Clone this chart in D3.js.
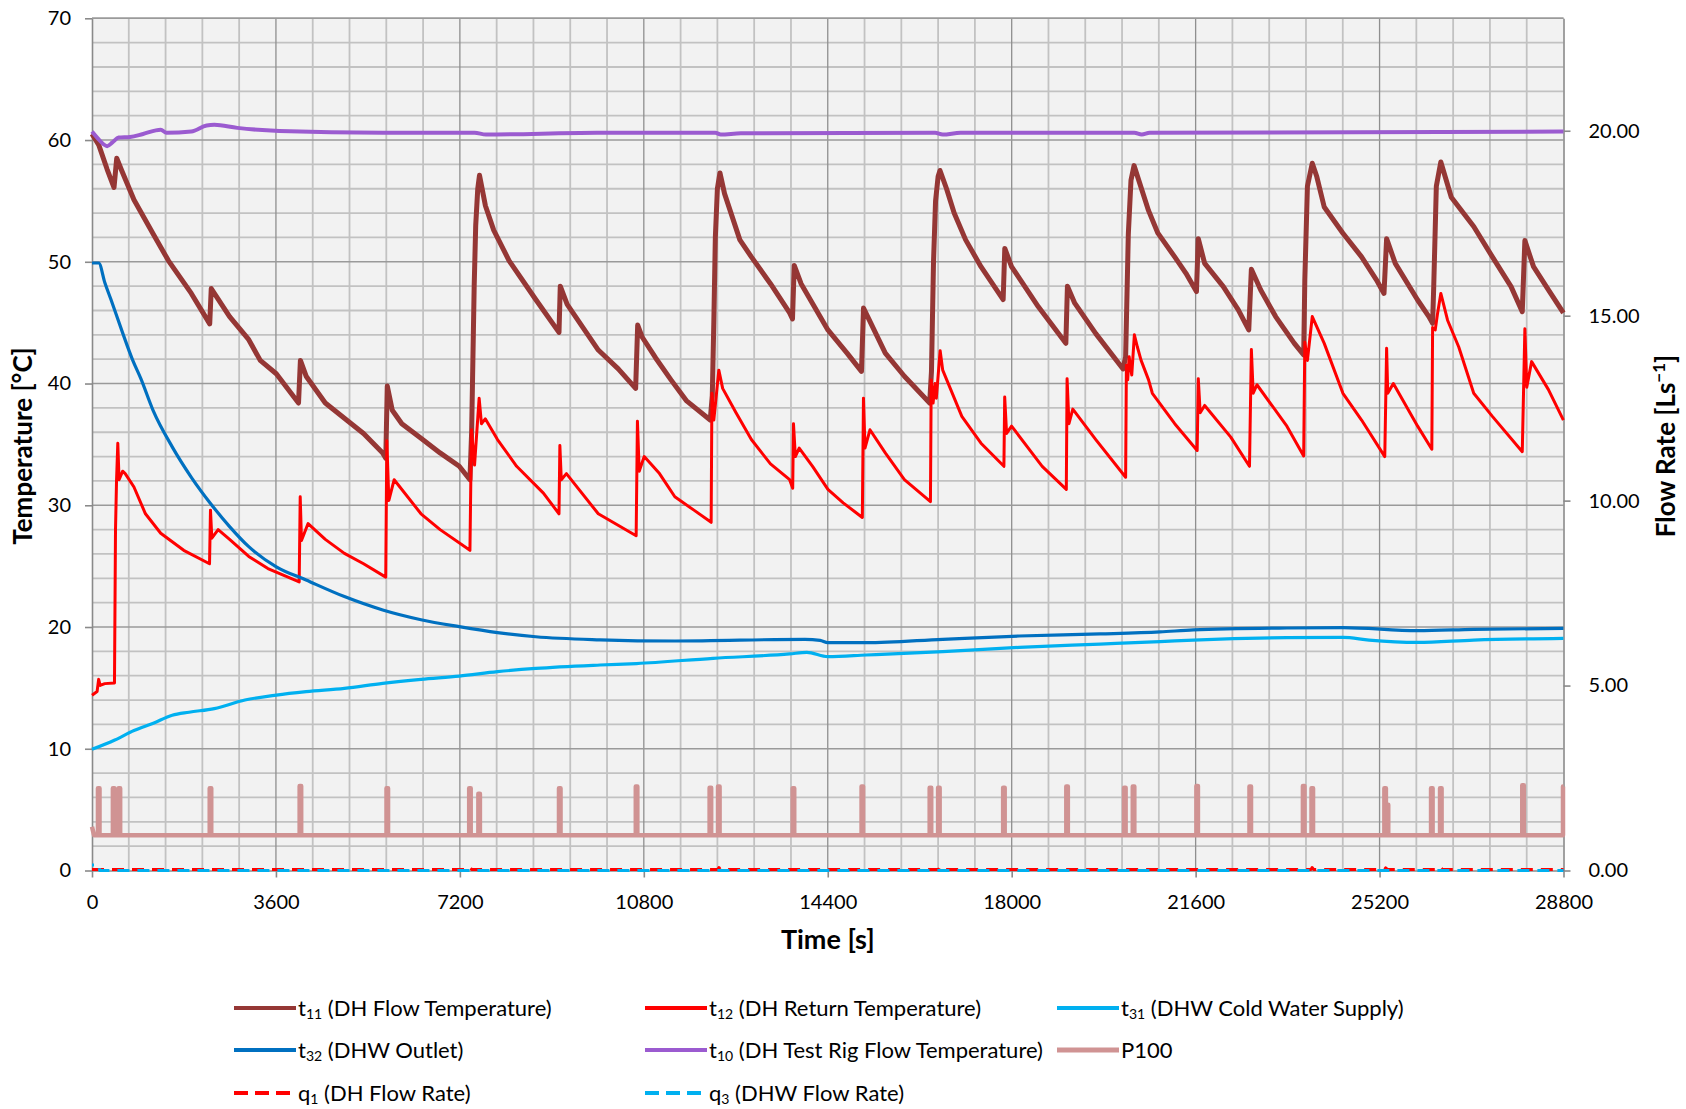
<!DOCTYPE html>
<html lang="en">
  <head>
    <meta charset="utf-8" />
    <title>DH substation test - temperatures and flow rates</title>
    <script src="https://d3js.org/d3.v7.min.js"></script>
    <style>
      body { margin: 0; background: #fff; }
      text { font-family: Lato, "Open Sans", sans-serif; fill: #000; }
    </style>
  </head>
  <body>
    <svg id="chart" width="1686" height="1109"></svg>

    <script>
      // tick values
      const timeTicks = [0, 3600, 7200, 10800, 14400, 18000, 21600, 25200, 28800];
      const tempTicks = [0, 10, 20, 30, 40, 50, 60, 70];
      const flowTicks = [0, 5, 10, 15, 20];

      // series: [time s, value]
      const t11 = [[0,60.5],[132,59.6],[296,57.6],[431,56.1],[484,58.5],[581,57.5],[821,55.1],[1195,52.3],[1495,50.1],[1944,47.4],[2304,44.9],[2334,47.8],[2693,45.5],[3068,43.6],[3293,41.9],[3607,40.8],[4042,38.4],[4079,41.9],[4191,40.6],[4566,38.4],[4940,37.15],[5315,35.9],[5690,34.3],[5750,33.85],[5779,39.8],[5877,37.8],[6064,36.7],[6439,35.5],[6813,34.3],[7188,33.2],[7397,32.1],[7430,36],[7480,48],[7510,53],[7550,56],[7584,57.1],[7700,54.6],[7862,52.6],[8162,50.1],[8685,46.9],[9140,44.2],[9165,48.0],[9300,46.5],[9909,42.75],[10300,41.2],[10640,39.6],[10680,44.8],[10770,43.8],[11032,42.1],[11332,40.3],[11631,38.6],[12100,37.0],[12140,39],[12170,45],[12200,52],[12240,56],[12290,57.3],[12380,55.6],[12680,51.8],[12905,50.4],[13279,48.2],[13654,45.8],[13710,45.3],[13744,49.7],[13878,48.2],[14403,44.4],[14778,42.5],[15060,41.0],[15100,46.2],[15226,45.1],[15526,42.5],[15900,40.6],[16395,38.4],[16430,41],[16470,50],[16510,55],[16560,57],[16597,57.5],[16725,56.0],[16874,54.0],[17099,51.8],[17399,49.6],[17833,46.9],[17865,51.1],[17997,49.6],[18522,46.3],[19060,43.3],[19091,48.0],[19234,46.6],[19646,44.1],[20180,41.2],[20230,42.2],[20283,52.3],[20335,56.7],[20395,57.9],[20679,54.2],[20862,52.35],[21191,50.4],[21411,49.05],[21616,47.55],[21652,51.9],[21777,49.87],[22142,47.96],[22435,46.05],[22640,44.4],[22691,49.38],[22874,47.68],[23166,45.5],[23532,43.3],[23715,42.35],[23737,48.5],[23788,56.2],[23883,58.1],[23971,57.0],[24117,54.5],[24483,52.35],[24848,50.4],[25141,48.5],[25287,47.4],[25338,51.9],[25507,49.87],[25945,46.86],[26165,45.5],[26238,44.95],[26260,47.96],[26311,56.2],[26399,58.2],[26604,55.3],[27043,52.9],[27408,50.4],[27774,47.96],[27993,45.9],[28044,51.74],[28213,49.6],[28505,47.7],[28798,45.8]];

      const t12 = [[0,14.4],[100,14.7],[130,15.7],[160,15.2],[250,15.35],[440,15.4],[460,28],[480,32],[505,35.1],[530,32.1],[600,32.8],[650,32.6],[821,31.5],[1046,29.3],[1345,27.7],[1795,26.3],[2300,25.2],[2319,29.6],[2345,27.3],[2469,28.0],[2693,27.2],[3068,25.8],[3443,24.8],[4055,23.7],[4075,30.7],[4100,27.1],[4229,28.5],[4566,27.2],[4940,26.05],[5315,25.2],[5749,24.1],[5770,35.3],[5810,30.4],[5914,32.1],[6439,29.3],[6813,28.0],[7397,26.3],[7427,36.2],[7487,33.3],[7577,38.8],[7622,36.7],[7697,37.1],[7936,35.4],[8311,33.2],[8835,31.0],[9140,29.3],[9157,34.9],[9185,32.1],[9285,32.6],[9909,29.3],[10650,27.5],[10675,36.9],[10710,32.8],[10808,34.0],[11107,32.6],[11407,30.7],[11781,29.6],[12118,28.6],[12133,39.2],[12170,37.0],[12268,41.1],[12343,39.6],[12605,37.6],[12905,35.4],[13279,33.4],[13654,32.1],[13714,31.4],[13729,36.7],[13766,34.0],[13841,34.7],[14103,33.2],[14403,31.3],[14702,30.2],[15077,29.0],[15099,38.8],[15129,34.7],[15226,36.2],[15526,34.3],[15900,32.1],[16410,30.3],[16425,40.3],[16462,38.4],[16500,40.0],[16525,38.8],[16600,42.7],[16650,41.1],[17024,37.3],[17399,35.1],[17848,33.2],[17863,38.9],[17900,35.9],[17998,36.5],[18597,33.2],[19069,31.3],[19084,40.4],[19121,36.7],[19196,37.9],[19646,35.4],[20230,32.3],[20245,41.5],[20270,40.3],[20299,42.2],[20350,40.7],[20401,44.0],[20460,43.0],[20533,41.9],[20679,40.3],[20753,39.2],[21191,36.7],[21630,34.5],[21652,40.4],[21689,37.6],[21777,38.2],[22288,35.6],[22654,33.2],[22691,42.8],[22727,39.2],[22800,39.9],[23386,36.5],[23715,34.05],[23737,43.4],[23788,41.9],[23883,45.5],[24117,43.3],[24483,39.2],[24848,37.0],[25302,34.0],[25338,42.9],[25360,39.2],[25470,40.0],[25945,36.5],[26223,34.6],[26238,44.6],[26289,44.4],[26333,45.7],[26399,47.4],[26531,45.2],[26750,43.0],[27043,39.2],[27408,37.3],[27993,34.4],[28044,44.5],[28081,39.7],[28176,41.8],[28505,39.5],[28798,37.0]];

      const t31 = [[0,9.95],[446,10.72],[821,11.5],[1200,12.1],[1570,12.75],[1900,13.0],[2394,13.3],[2993,14.0],[3607,14.41],[4191,14.69],[4940,14.96],[5690,15.37],[6439,15.7],[7188,15.97],[7936,16.33],[8685,16.6],[9943,16.88],[10658,17.0],[12156,17.43],[13654,17.79],[13991,17.92],[14403,17.57],[15152,17.7],[16650,17.98],[18148,18.33],[19729,18.6],[20904,18.8],[21557,18.93],[23386,19.13],[24483,19.15],[24995,18.93],[25945,18.74],[27043,18.93],[28798,19.07]];

      const t32 = [[0,49.9],[132,49.9],[250,48.3],[371,46.9],[596,44.2],[798,41.9],[956,40.4],[1195,37.8],[1570,34.8],[1944,32.3],[2319,30.15],[2693,28.25],[3068,26.6],[3607,24.95],[4191,23.86],[4940,22.5],[5690,21.4],[6439,20.6],[7188,20.03],[7936,19.54],[8685,19.2],[9943,18.95],[11407,18.85],[13953,18.99],[14250,18.9],[14403,18.71],[15152,18.71],[16650,18.99],[18148,19.26],[19729,19.43],[20904,19.6],[21557,19.76],[23386,19.92],[24483,19.95],[25945,19.7],[27043,19.81],[28798,19.89]];

      const t10 = [[0,60.7],[100,60.2],[296,59.5],[400,59.8],[521,60.2],[746,60.25],[1000,60.5],[1345,60.85],[1457,60.6],[1944,60.7],[2244,61.2],[2394,61.25],[2843,61.0],[3667,60.75],[5690,60.6],[7487,60.6],[7711,60.45],[9884,60.6],[12200,60.6],[12305,60.45],[12700,60.55],[16500,60.6],[16650,60.45],[17000,60.6],[20400,60.6],[20545,60.45],[20700,60.6],[28798,60.7]];

      const p100 = [[0,3.6],[40,2.9],
        [117,2.9],[117,6.75],[147,6.75],[147,2.9],
        [409,2.9],[409,6.75],[439,6.75],[439,2.9],
        [521,2.9],[521,6.75],[551,6.75],[551,2.9],
        [2304,2.9],[2304,6.75],[2334,6.75],[2334,2.9],
        [4064,2.9],[4064,6.94],[4094,6.94],[4094,2.9],
        [5764,2.9],[5764,6.75],[5794,6.75],[5794,2.9],
        [7382,2.9],[7382,6.75],[7412,6.75],[7412,2.9],
        [7562,2.9],[7562,6.3],[7592,6.3],[7592,2.9],
        [9140,2.9],[9140,6.75],[9170,6.75],[9170,2.9],
        [10643,2.9],[10643,6.89],[10673,6.89],[10673,2.9],
        [12088,2.9],[12088,6.8],[12118,6.8],[12118,2.9],
        [12253,2.9],[12253,6.89],[12283,6.89],[12283,2.9],
        [13714,2.9],[13714,6.75],[13744,6.75],[13744,2.9],
        [15062,2.9],[15062,6.89],[15092,6.89],[15092,2.9],
        [16395,2.9],[16395,6.8],[16425,6.8],[16425,2.9],
        [16560,2.9],[16560,6.8],[16590,6.8],[16590,2.9],
        [17833,2.9],[17833,6.8],[17863,6.8],[17863,2.9],
        [19069,2.9],[19069,6.89],[19099,6.89],[19099,2.9],
        [20200,2.9],[20200,6.8],[20230,6.8],[20230,2.9],
        [20370,2.9],[20370,6.89],[20400,6.89],[20400,2.9],
        [21615,2.9],[21615,6.94],[21645,6.94],[21645,2.9],
        [22654,2.9],[22654,6.89],[22684,6.89],[22684,2.9],
        [23700,2.9],[23700,6.94],[23730,6.94],[23730,2.9],
        [23868,2.9],[23868,6.75],[23898,6.75],[23898,2.9],
        [25294,2.9],[25294,6.75],[25324,6.75],[25324,2.9],
        [25350,2.9],[25350,5.4],[25370,5.4],[25370,2.9],
        [26208,2.9],[26208,6.75],[26238,6.75],[26238,2.9],
        [26384,2.9],[26384,6.75],[26414,6.75],[26414,2.9],
        [27993,2.9],[27993,7.0],[28023,7.0],[28023,2.9],
        [28790,2.9],[28790,6.89],[28800,6.89]];

      const q1 = [[0,0.03],[7380,0.03],[7400,0.08],[7430,0.03],[12250,0.03],[12270,0.08],[12300,0.03],[16570,0.03],[16590,0.08],[16620,0.03],[23860,0.03],[23880,0.08],[23910,0.03],[25300,0.03],[25320,0.07],[25350,0.03],[26380,0.03],[26400,0.08],[26430,0.03],[28800,0.03]];
      const q3 = [[0,0.15],[130,0.15],[150,0.0],[28800,0.0]];

      const svg = d3.select("#chart");
      const plot = { left: 92, right: 1563.5, top: 18.3, bottom: 870.5 };

      const x = d3.scaleLinear().domain([0, 28800]).range([plot.left, plot.right]);
      const yT = d3.scaleLinear().domain([0, 70]).range([plot.bottom, plot.top]);
      const yF = d3.scaleLinear().domain([0, 23.04]).range([plot.bottom, plot.top]);

      svg.append("rect")
        .attr("x", plot.left).attr("y", plot.top)
        .attr("width", plot.right - plot.left)
        .attr("height", plot.bottom - plot.top)
        .attr("fill", "#f2f2f2");

      // minor grid every 720 s and 2 degC
      const grid = svg.append("g");
      grid.selectAll(".vmin").data(d3.range(720, 28800, 720).filter(d => d % 3600))
        .enter().append("line")
        .attr("x1", d => x(d)).attr("x2", d => x(d))
        .attr("y1", plot.top).attr("y2", plot.bottom)
        .attr("stroke", "#c2c2c2").attr("stroke-width", 1.8);
      grid.selectAll(".hmin").data(d3.range(2, 70, 2).filter(d => d % 10))
        .enter().append("line")
        .attr("x1", plot.left).attr("x2", plot.right)
        .attr("y1", d => yT(d)).attr("y2", d => yT(d))
        .attr("stroke", "#c2c2c2").attr("stroke-width", 1.8);
      // major grid
      grid.selectAll(".vmaj").data(timeTicks.slice(1, -1))
        .enter().append("line")
        .attr("x1", d => x(d)).attr("x2", d => x(d))
        .attr("y1", plot.top).attr("y2", plot.bottom)
        .attr("stroke", "#8f8f8f").attr("stroke-width", 1.3);
      grid.selectAll(".hmaj").data(tempTicks.slice(1))
        .enter().append("line")
        .attr("x1", plot.left).attr("x2", plot.right)
        .attr("y1", d => yT(d)).attr("y2", d => yT(d))
        .attr("stroke", "#9a9a9a").attr("stroke-width", 1.6);

      // axes
      function styleAxis(g) {
        g.select(".domain").attr("stroke", "#8a8a8a").attr("stroke-width", 1.6);
        g.selectAll(".tick line").attr("stroke", "#8a8a8a").attr("stroke-width", 1.6);
        g.selectAll(".tick text").attr("font-size", 20).attr("fill", "#000");
      }
      svg.append("g")
        .attr("transform", `translate(0,${plot.bottom})`)
        .call(d3.axisBottom(x).tickValues(timeTicks).tickSize(7).tickPadding(17).tickSizeOuter(0).tickFormat(d3.format("d")))
        .call(styleAxis);
      svg.append("g")
        .attr("transform", `translate(${plot.left},0)`)
        .call(d3.axisLeft(yT).tickValues(tempTicks).tickSize(7).tickPadding(14).tickSizeOuter(0))
        .call(styleAxis);
      svg.append("g")
        .attr("transform", `translate(${plot.right},0)`)
        .call(d3.axisRight(yF).tickValues(flowTicks).tickSize(7).tickPadding(18).tickSizeOuter(0).tickFormat(d3.format(".2f")))
        .call(styleAxis);
      svg.append("line")
        .attr("x1", plot.left).attr("x2", plot.right)
        .attr("y1", plot.top).attr("y2", plot.top)
        .attr("stroke", "#9a9a9a").attr("stroke-width", 1.6);

      // series
      const lineLin = d3.line().x(d => x(d[0])).y(d => yT(d[1]));
      const lineSmooth = d3.line().x(d => x(d[0])).y(d => yT(d[1])).curve(d3.curveMonotoneX);
      const lineF = d3.line().x(d => x(d[0])).y(d => yF(d[1]));

      const series = [
        { data: t11, gen: lineLin, color: "#953735", width: 5, dash: null },
        { data: t12, gen: lineLin, color: "#ff0000", width: 3, dash: null },
        { data: t31, gen: lineSmooth, color: "#00b0f0", width: 3.2, dash: null },
        { data: t32, gen: lineSmooth, color: "#0070c0", width: 3.2, dash: null },
        { data: t10, gen: lineSmooth, color: "#9b5bd0", width: 4, dash: null },
        { data: p100, gen: lineLin, color: "#d09393", width: 4.5, dash: null },
        { data: q1, gen: lineF, color: "#ff0000", width: 3, dash: "12,8" },
        { data: q3, gen: lineF, color: "#00b0f0", width: 3, dash: "12,8", offset: 10 }
      ];

      const lines = svg.append("g");
      series.forEach(s => {
        lines.append("path")
          .attr("d", s.gen(s.data))
          .attr("fill", "none")
          .attr("stroke", s.color)
          .attr("stroke-width", s.width)
          .attr("stroke-linejoin", "round")
          .attr("stroke-dasharray", s.dash)
          .attr("stroke-dashoffset", s.offset || 0);
      });

      // axis titles
      svg.append("text")
        .attr("x", (plot.left + plot.right) / 2).attr("y", 949)
        .attr("text-anchor", "middle")
        .attr("font-size", 27).attr("font-weight", "bold")
        .text("Time [s]");
      svg.append("text")
        .attr("transform", "translate(32,446) rotate(-90)")
        .attr("text-anchor", "middle")
        .attr("font-size", 26).attr("font-weight", "bold")
        .text("Temperature [°C]");
      const fr = svg.append("text")
        .attr("transform", "translate(1675,446) rotate(-90)")
        .attr("text-anchor", "middle")
        .attr("font-size", 26).attr("font-weight", "bold");
      fr.append("tspan").text("Flow Rate [Ls");
      fr.append("tspan").attr("font-size", 17).attr("dy", -10).text("−1");
      fr.append("tspan").attr("dy", 10).text("]");

      // legend
      const legendItems = [
        { base: "t", sub: "11", rest: " (DH Flow Temperature)", color: "#953735", width: 4, dash: null },
        { base: "t", sub: "12", rest: " (DH Return Temperature)", color: "#ff0000", width: 4, dash: null },
        { base: "t", sub: "31", rest: " (DHW Cold Water Supply)", color: "#00b0f0", width: 4, dash: null },
        { base: "t", sub: "32", rest: " (DHW Outlet)", color: "#0070c0", width: 4, dash: null },
        { base: "t", sub: "10", rest: " (DH Test Rig Flow Temperature)", color: "#9b5bd0", width: 4, dash: null },
        { base: "P100", sub: "", rest: "", color: "#d09393", width: 5, dash: null },
        { base: "q", sub: "1", rest: " (DH Flow Rate)", color: "#ff0000", width: 4, dash: "14,7" },
        { base: "q", sub: "3", rest: " (DHW Flow Rate)", color: "#00b0f0", width: 4, dash: "14,7" }
      ];
      const colX = [234, 645, 1057];
      const rowY = [1008, 1050, 1093];

      const legend = svg.append("g");
      legendItems.forEach((it, i) => {
        const cx = colX[i % 3], cy = rowY[Math.floor(i / 3)];
        legend.append("line")
          .attr("x1", cx).attr("x2", cx + 62)
          .attr("y1", cy).attr("y2", cy)
          .attr("stroke", it.color).attr("stroke-width", it.width)
          .attr("stroke-dasharray", it.dash);
        const t = legend.append("text")
          .attr("x", cx + 64).attr("y", cy + 8)
          .attr("font-size", 22);
        t.append("tspan").text(it.base);
        if (it.sub) {
          t.append("tspan").attr("font-size", 14).attr("dy", 3).text(it.sub);
          t.append("tspan").attr("dy", -3).text(it.rest);
        }
      });
    </script>
  </body>
</html>
